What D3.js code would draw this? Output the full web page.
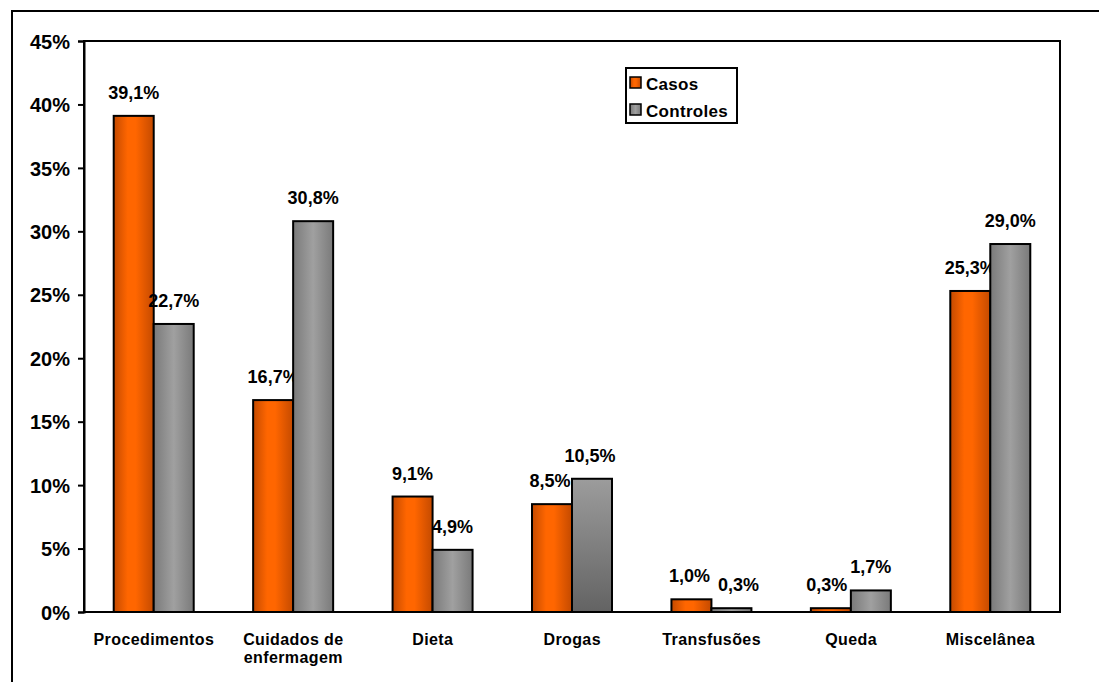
<!DOCTYPE html>
<html><head><meta charset="utf-8">
<script src="https://cdn.jsdelivr.net/npm/d3@7"></script>
<style>body{margin:0;background:#fff;} svg{display:block;font-family:"Liberation Sans",Arial,sans-serif;}</style>
</head><body>
<svg id="c" width="1099" height="682"></svg>
<script>
const categories = ["Procedimentos", "Cuidados de\nenfermagem", "Dieta", "Drogas", "Transfusões", "Queda", "Miscelânea"];
const casos = [39.1, 16.7, 9.1, 8.5, 1.0, 0.3, 25.3];
const controles = [22.7, 30.8, 4.9, 10.5, 0.3, 1.7, 29.0];
const seriesNames = ["Casos", "Controles"];
const yTicks = [0, 5, 10, 15, 20, 25, 30, 35, 40, 45];
// small horizontal nudges of the value labels (to avoid overlaps, as in the original)
const casosLabelNudge = [0, 0, 0, -2, -2, -4, 0];
const controlesLabelNudge = [0, 0, 0, -2, 7, 0, 0];

const svg = d3.select("#c");
const defs = svg.append("defs");
function hgrad(id, stops){
  const g = defs.append("linearGradient").attr("id", id).attr("x1","0").attr("x2","1").attr("y1","0").attr("y2","0");
  stops.forEach(s => g.append("stop").attr("offset", s[0]).attr("stop-color", s[1]));
}
hgrad("gOrange", [[0,"#c44a00"],[0.35,"#ff6600"],[0.55,"#ff6600"],[1,"#c44a00"]]);
hgrad("gGray", [[0,"#7a7a7a"],[0.5,"#a0a0a0"],[1,"#7a7a7a"]]);
const gv = defs.append("linearGradient").attr("id","gGrayV").attr("x1","0").attr("x2","0").attr("y1","0").attr("y2","1");
gv.append("stop").attr("offset",0).attr("stop-color","#9c9c9c");
gv.append("stop").attr("offset",1).attr("stop-color","#636363");

// outer border
svg.append("path").attr("d","M12,690 L12,11 L1110,11").attr("fill","none").attr("stroke","#000").attr("stroke-width",2);

const L = 84, R = 1060, T = 41, B = 612;
const x = d3.scaleBand().domain(d3.range(categories.length)).range([L, R]).paddingInner(0).paddingOuter(0);
const y = d3.scaleLinear().domain([0, 45]).range([B, T]);
const bw = 40;

// plot frame
svg.append("rect").attr("x",L).attr("y",T).attr("width",R-L).attr("height",B-T).attr("fill","none").attr("stroke","#000").attr("stroke-width",2);

// y axis
const yAxis = d3.axisLeft(y).tickValues(yTicks).tickSize(6).tickPadding(8).tickFormat(d => d + "%");
const ya = svg.append("g").attr("transform",`translate(${L},0)`).call(yAxis);
ya.select(".domain").attr("stroke","#000").attr("stroke-width",2);
ya.selectAll(".tick line").attr("stroke","#000").attr("stroke-width",2);
ya.selectAll(".tick text").attr("font-size",20).attr("font-weight","bold").attr("fill","#000")
  .attr("dy","0.36em").attr("font-family","Liberation Sans, Arial, sans-serif");

// bars
const data = categories.map((c,i) => ({i, v:[casos[i], controles[i]], n:[casosLabelNudge[i], controlesLabelNudge[i]]}));
const g = svg.append("g");
data.forEach(d => {
  const cx = x(d.i) + x.bandwidth()/2;
  d.v.forEach((v, s) => {
    const x0 = cx - bw + s*bw;
    const fill = s === 0 ? "url(#gOrange)" : (d.i === 3 ? "url(#gGrayV)" : "url(#gGray)");
    g.append("rect").attr("x", x0).attr("y", y(v)).attr("width", bw).attr("height", B - y(v))
      .attr("fill", fill).attr("stroke","#000").attr("stroke-width",2);
    g.append("text").attr("x", x0 + bw/2).attr("dx", d.n[s]).attr("y", y(v) - 17).attr("text-anchor","middle")
      .attr("font-size",18).attr("font-weight","bold").attr("fill","#000")
      .text(v.toFixed(1).replace(".", ",") + "%");
  });
});
// redraw baseline
svg.append("line").attr("x1",L).attr("x2",R).attr("y1",B).attr("y2",B).attr("stroke","#000").attr("stroke-width",2);

// category labels
categories.forEach((c,i) => {
  const cx = x(i) + x.bandwidth()/2 + 0.2;
  const t = svg.append("text").attr("x", cx).attr("y", 645).attr("text-anchor","middle")
    .attr("font-size",16).attr("font-weight","bold").attr("fill","#000").attr("letter-spacing","0.4px");
  c.split("\n").forEach((line, k) => {
    t.append("tspan").attr("x", cx).attr("dy", k === 0 ? 0 : 18).text(line);
  });
});

// legend
const lg = svg.append("g");
lg.append("rect").attr("x",626).attr("y",68).attr("width",111).attr("height",55).attr("fill","#fff").attr("stroke","#000").attr("stroke-width",2);
seriesNames.forEach((n, k) => {
  const yy = 77 + k*27;
  lg.append("rect").attr("x",630).attr("y",yy).attr("width",11).attr("height",11)
    .attr("fill", k === 0 ? "url(#gOrange)" : "url(#gGray)").attr("stroke","#000").attr("stroke-width",1.5);
  lg.append("text").attr("x",646).attr("y",yy+13).attr("font-size",17).attr("font-weight","bold").attr("fill","#000")
    .attr("letter-spacing","0.3px").text(n);
});
</script>
</body></html>
